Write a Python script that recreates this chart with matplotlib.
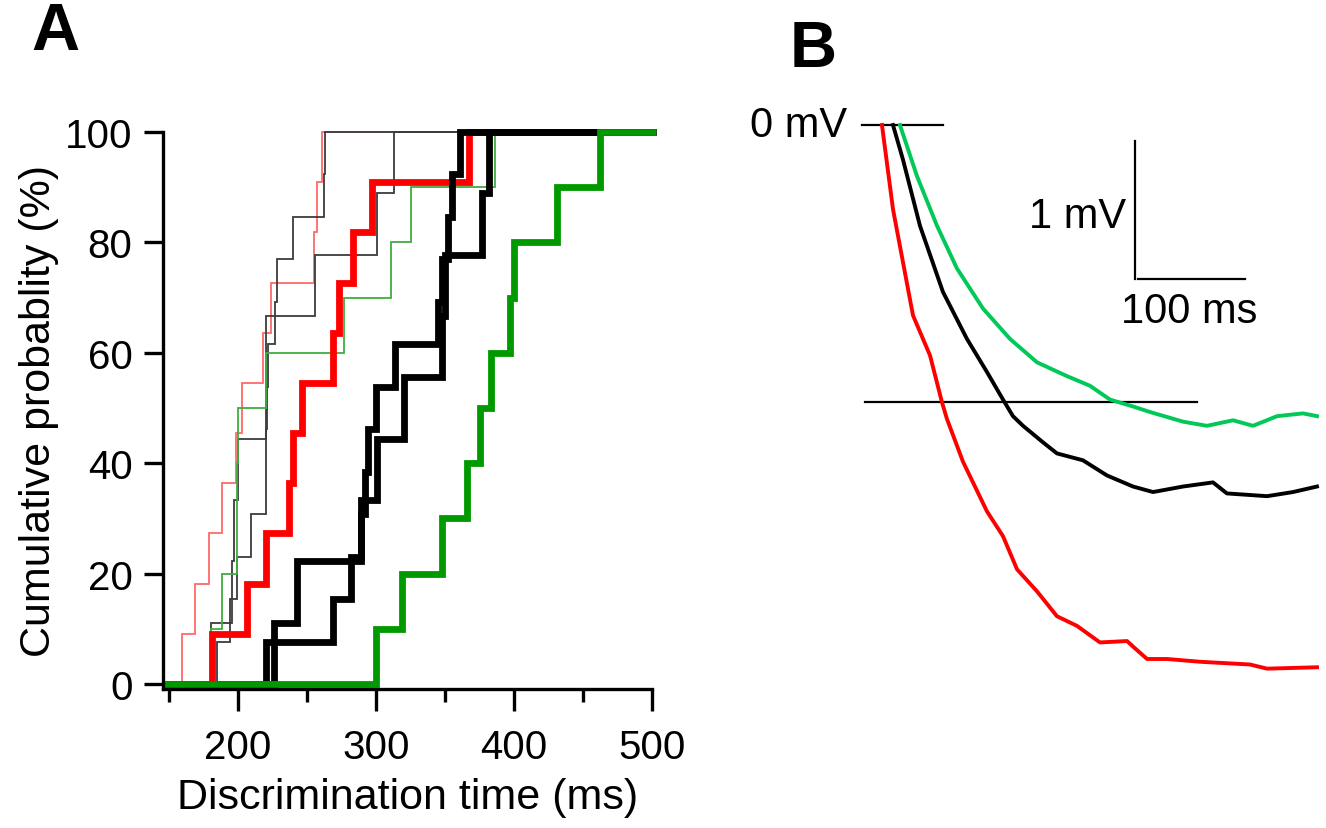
import matplotlib
matplotlib.use('Agg')
import matplotlib.pyplot as plt
from matplotlib.ticker import MultipleLocator

plt.rcParams['font.family'] = ['Liberation Sans', 'DejaVu Sans']

# ---- panel A: discrimination times (ms), one list per cumulative curve ----
thin_red = [159, 169, 179, 188, 198.5, 203, 218, 224, 255, 257, 261]
thin_gray_a = [185, 194, 199, 209, 220, 220.5, 221, 222, 227, 228, 240, 262, 263]
thin_gray_b = [180, 195.5, 197, 200, 220, 220.5, 256, 301, 313]
thin_green = [180, 188, 199, 199.5, 200, 220, 277, 311, 325, 386]
thick_red = [181, 206.5, 220, 237, 240, 246, 269, 273, 283, 297, 367]
thick_black_a = [220, 269, 281.5, 289, 292, 294, 300, 314, 345, 348, 352, 355, 361]
thick_black_b = [226, 243, 289, 301, 320, 348, 350, 377, 382]
thick_green = [300, 319, 348, 366, 375, 383, 397, 400, 431, 462]

x_start = 146
x_end = 503

# ---- panel B: averaged traces, time (ms) and potential (mV) ----
red_t = [18.7, 29, 47.7, 63.6, 74.8, 79.4, 94.4, 116.8, 131.8, 144.9, 163.6,
         182.2, 200.9, 222.4, 247.7, 253.3, 266.4, 285, 315.9, 362.6, 378.5, 425.2]
red_v = [0.0, -0.61, -1.38, -1.67, -2.01, -2.13, -2.44, -2.80, -2.98, -3.22, -3.38,
         -3.56, -3.63, -3.75, -3.74, -3.78, -3.87, -3.87, -3.89, -3.91, -3.94, -3.93]
black_t = [29, 38.3, 54.2, 75.7, 98.1, 116.8, 131.8, 141.1, 150.5, 169.2, 182.2,
           206.5, 229, 253.3, 272, 300, 328, 341, 378.5, 402.8, 425.2]
black_v = [0.0, -0.25, -0.73, -1.21, -1.55, -1.79, -1.99, -2.11, -2.18, -2.30, -2.38,
           -2.43, -2.54, -2.62, -2.66, -2.62, -2.59, -2.67, -2.69, -2.66, -2.62]
green_t = [35.5, 51.4, 70.1, 88.8, 113.1, 138.3, 163.6, 191.6, 213.1, 231.8, 253.3,
           269.2, 300, 322.4, 346.7, 365.4, 387.9, 412.1, 425.2]
green_v = [0.0, -0.37, -0.73, -1.04, -1.33, -1.55, -1.72, -1.82, -1.89, -1.99, -2.04,
           -2.08, -2.15, -2.18, -2.14, -2.18, -2.11, -2.09, -2.11]

threshold_v = -2.01


def cum_steps(ax, times, color, lw):
    n = len(times)
    xs = [x_start] + sorted(times) + [x_end]
    ys = [0] + [100.0 * (i + 1) / n for i in range(n)] + [100]
    ax.step(xs, ys, where='post', color=color, linewidth=lw,
            solid_joinstyle='miter', solid_capstyle='butt', clip_on=False)


fig = plt.figure(figsize=(13.26, 8.29), dpi=100)

# Panel A
ax = fig.add_axes([0.1229, 0.1677, 0.3688, 0.6719])
thin = 1.3
thick = 4.9
cum_steps(ax, thin_red, '#ff6a6a', thin)
cum_steps(ax, thin_gray_a, '#3c3c3c', thin)
cum_steps(ax, thin_gray_b, '#3c3c3c', thin)
cum_steps(ax, thin_green, '#3fae3f', thin)
cum_steps(ax, thick_red, '#ff0000', thick)
cum_steps(ax, thick_black_a, '#000000', thick)
cum_steps(ax, thick_black_b, '#000000', thick)
cum_steps(ax, thick_green, '#009a00', thick)

ax.set_xlim(145.5, 500)
ax.set_ylim(-0.9, 100)
ax.spines['top'].set_visible(False)
ax.spines['right'].set_visible(False)
for s in ['left', 'bottom']:
    ax.spines[s].set_linewidth(2.4)
ax.xaxis.set_major_locator(MultipleLocator(100))
ax.xaxis.set_minor_locator(MultipleLocator(50))
ax.yaxis.set_major_locator(MultipleLocator(20))
ax.tick_params(axis='x', which='major', length=16, width=2.4, labelsize=29, pad=12)
ax.tick_params(axis='x', which='minor', length=9, width=2.4)
ax.tick_params(axis='y', which='major', length=14, width=2.4, labelsize=29, pad=8)
ax.set_xlabel('Discrimination time (ms)', fontsize=31, labelpad=8)
ax.set_ylabel('Cumulative probablity (%)', fontsize=31, labelpad=4)

# Panel B
bx = fig.add_axes([0.641, 0.1556, 0.359, 0.7117])
bx.set_xlim(-11.2, 433.6)
bx.set_ylim(-4.16, 0.116)
bx.axis('off')
bx.plot([0, 75.7], [0, 0], color='black', linewidth=1.6)
bx.plot([2.8, 313], [threshold_v, threshold_v], color='black', linewidth=1.6)
bx.plot(red_t, red_v, color='#ff0000', linewidth=2.8)
bx.plot(black_t, black_v, color='#000000', linewidth=2.8)
bx.plot(green_t, green_v, color='#00c957', linewidth=2.8)
# scale bars: 1 mV and 100 ms
bx.plot([255, 255], [-0.116, -1.116], color='black', linewidth=1.6)
bx.plot([258, 358], [-1.116, -1.116], color='black', linewidth=1.6)
bx.text(-14, 0, '0 mV', fontsize=30, ha='right', va='center', clip_on=False)
bx.text(247, -0.66, '1 mV', fontsize=30, ha='right', va='center')
bx.text(306, -1.35, '100 ms', fontsize=30, ha='center', va='center')

fig.text(0.042, 0.96, 'A', fontsize=48, fontweight='bold', ha='center', va='center')
fig.text(0.613, 0.94, 'B', fontsize=47, fontweight='bold', ha='center', va='center')

fig.savefig('out.png', dpi=100)
